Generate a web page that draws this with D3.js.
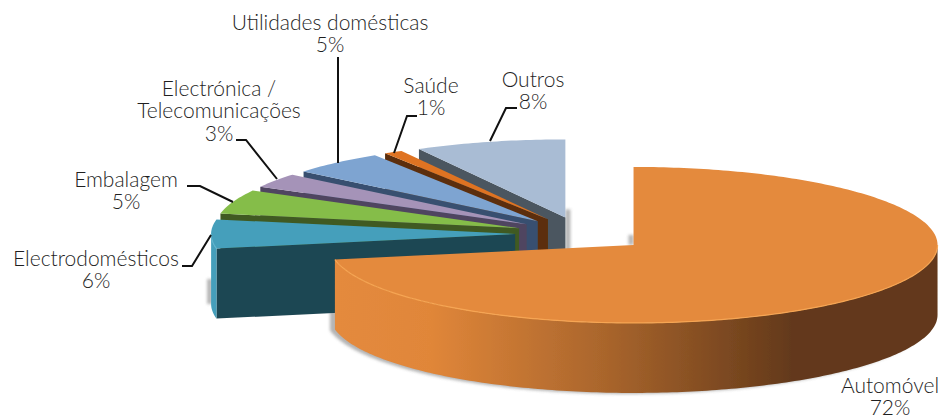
<!DOCTYPE html>
<html>
<head>
<meta charset="utf-8">
<script src="https://cdn.jsdelivr.net/npm/d3@7/dist/d3.min.js"></script>
<style>
    html, body { margin: 0; padding: 0; background: #fff; }
    svg { display: block; }
    .label { font-family: "Lato", sans-serif; font-size: 21px; font-weight: 300; fill: #1f1f1f; text-anchor: middle; }
    .leader { fill: none; stroke: #111; stroke-width: 2; }
</style>
</head>
<body>
<div id="chart"></div>
<script>
// pie order is clockwise from 12 o'clock, same as the original
const categories = ["Automóvel", "Electrodomésticos", "Embalagem", "Electrónica / Telecomunicações", "Utilidades domésticas", "Saúde", "Outros"];
const shares = [72, 6, 5, 3, 5, 1, 8];

const topColors = ["#e48a3e", "#449fbb", "#85bd49", "#a593b8", "#7ea4d1", "#df7320", "#a9bcd4"];
const faceColors = ["#63391a", "#1f4652", "#3f5a22", "#4f4560", "#38506f", "#5c2f0e", "#4b5761"];

// label text placement and leader lines, in page pixels
const labelLines = [
    ["Automóvel", "72%"],
    ["Electrodomésticos", "6%"],
    ["Embalagem", "5%"],
    ["Electrónica /", "Telecomunicações", "3%"],
    ["Utilidades domésticas", "5%"],
    ["Saúde", "1%"],
    ["Outros", "8%"]
];
const labelAnchors = [[890, 393], [96, 266], [126, 187], [219, 96], [330, 30], [431, 93], [533, 87]];
const lineHeight = 22.3;
const leaders = [
    null,
    [[182, 266], [192, 266], [211, 235]],
    [[187, 186], [200, 186], [233, 202]],
    [[236, 140], [246, 140], [277, 179]],
    [[338, 57], [338, 163]],
    [[417, 116], [407, 116], [394, 153]],
    [[517, 108], [506, 108], [490, 141]]
];

const width = 944, height = 416;
const cx = 582, cy = 234;       // undisplaced pie centre
const rx = 304, ry = 78;
const depth = 70;
const explode = 0.22;

const svg = d3.select("#chart").append("svg")
    .attr("width", width)
    .attr("height", height);

const defs = svg.append("defs");

defs.append("filter").attr("id", "soft")
    .append("feGaussianBlur").attr("stdDeviation", 0.45);

defs.append("filter").attr("id", "shadow")
    .attr("filterUnits", "userSpaceOnUse")
    .attr("x", 0).attr("y", 0).attr("width", width).attr("height", height)
    .append("feGaussianBlur").attr("stdDeviation", 1.4);

const wallGrad = defs.append("linearGradient")
    .attr("id", "wallGrad")
    .attr("gradientUnits", "userSpaceOnUse")
    .attr("x1", 335).attr("x2", 937).attr("y1", 0).attr("y2", 0);
[[0, "#e48a3e"], [0.16, "#e08639"], [0.45, "#a9652c"], [0.76, "#63391a"], [1, "#63391a"]].forEach(s => {
    wallGrad.append("stop").attr("offset", s[0]).attr("stop-color", s[1]);
});

const pie = d3.pie().sort(null).value(d => d).startAngle(0).endAngle(2 * Math.PI);
const slices = pie(shares).map((d, i) => {
    const mid = (d.startAngle + d.endAngle) / 2;
    return {
        ...d,
        i,
        ox: cx + explode * rx * Math.sin(mid),
        oy: cy - explode * ry * Math.cos(mid)
    };
});

const rimPoint = (s, a, dz = 0) => [s.ox + rx * Math.sin(a), s.oy - ry * Math.cos(a) + dz];

function arcPoints(s, a0, a1, dz = 0) {
    const n = Math.max(2, Math.ceil(Math.abs(a1 - a0) * 60));
    return d3.range(n + 1).map(k => rimPoint(s, a0 + (a1 - a0) * k / n, dz));
}

const line = d3.line();
const closed = pts => line(pts) + "Z";

// outer wall only shows on the lower half of the ellipse
function wallPoints(s) {
    const a0 = Math.max(s.startAngle, Math.PI / 2);
    const a1 = Math.min(s.endAngle, 3 * Math.PI / 2);
    if (a1 <= a0) return null;
    return [...arcPoints(s, a0, a1), ...arcPoints(s, a1, a0, depth)];
}

const pieG = svg.append("g").attr("filter", "url(#soft)");

// shadows go under everything: orange wall, then three short strips
const shadowG = pieG.append("g").attr("filter", "url(#shadow)").attr("opacity", 0.55);

shadowG.append("path")
    .attr("d", closed(wallPoints(slices[0])))
    .attr("transform", "translate(-5,1)")
    .attr("fill", "#777");

const west = 3 * Math.PI / 2;
const strips = [
    [rimPoint(slices[1], west, 45), rimPoint(slices[1], west, depth)].map(p => [p[0] - 1.5, p[1]]),
    [[slices[6].ox + 2.5, slices[6].oy - 8], [slices[6].ox + 2.5, slices[6].oy + depth - 8]],
    [[slices[0].ox - 2.5, slices[0].oy - 10], [slices[0].ox - 2.5, slices[0].oy]]
];
shadowG.selectAll("path.strip")
    .data(strips)
    .join("path")
    .attr("class", "strip")
    .attr("d", d => line(d))
    .attr("fill", "none")
    .attr("stroke", "#777")
    .attr("stroke-width", 5);

// back to front: Outros first, then round to Automóvel
const drawOrder = [6, 5, 4, 3, 2, 1, 0].map(i => slices[i]);

drawOrder.forEach(s => {
    const g = pieG.append("g");
    const rim = rimPoint(s, s.startAngle);

    // cut face on the start side
    if (s.i !== 0) {
        g.append("path")
            .attr("d", closed([[s.ox, s.oy], rim, [rim[0], rim[1] + depth], [s.ox, s.oy + depth]]))
            .attr("fill", faceColors[s.i]);
    }

    const wall = wallPoints(s);
    if (wall) {
        g.append("path")
            .attr("d", closed(wall))
            .attr("fill", s.i === 0 ? "url(#wallGrad)" : topColors[s.i]);
    }

    g.append("path")
        .attr("d", closed([[s.ox, s.oy], ...arcPoints(s, s.startAngle, s.endAngle)]))
        .attr("fill", topColors[s.i]);

    // thin lighter bevel along the front edge
    if (wall) {
        g.append("path")
            .attr("d", line(arcPoints(s, Math.max(s.startAngle, Math.PI / 2), Math.min(s.endAngle, 3 * Math.PI / 2))))
            .attr("fill", "none")
            .attr("stroke", s.i === 0 ? "#f6a553" : "#5fb4cd")
            .attr("stroke-width", 1.2);
    }
});

svg.append("g").selectAll("path")
    .data(leaders.filter(d => d))
    .join("path")
    .attr("class", "leader")
    .attr("d", d => line(d));

const labels = svg.append("g").selectAll("text")
    .data(categories)
    .join("text")
    .attr("class", "label")
    .attr("transform", (d, i) => `translate(${labelAnchors[i]})`);

labels.selectAll("tspan")
    .data((d, i) => labelLines[i])
    .join("tspan")
    .attr("x", 0)
    .attr("y", (d, k) => k * lineHeight)
    .text(d => d);
</script>
</body>
</html>
